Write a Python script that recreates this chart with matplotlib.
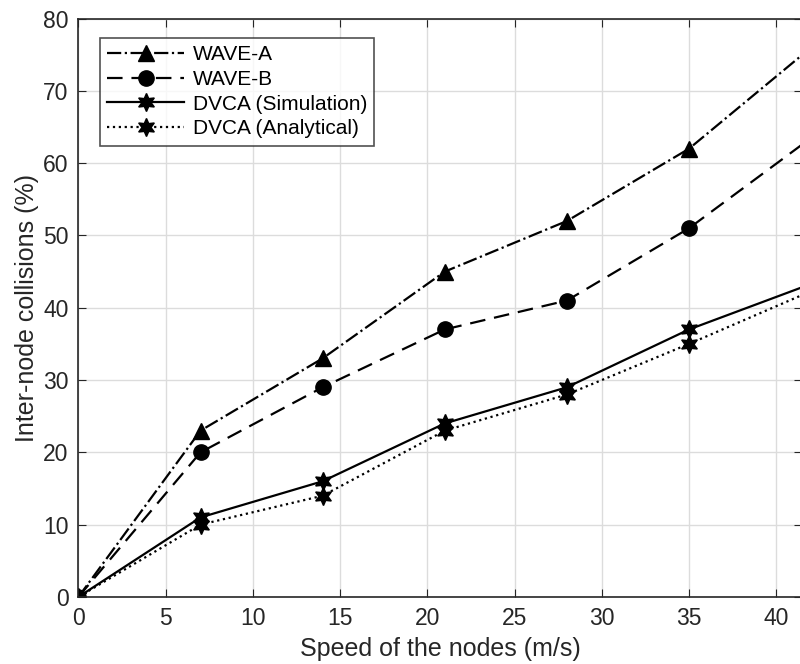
import matplotlib.pyplot as plt
import numpy as np

# data
speed = [0, 7, 14, 21, 28, 35, 42]
wave_a = [0, 23, 33, 45, 52, 62, 76]
wave_b = [0, 20, 29, 37, 41, 51, 63.5]
dvca_sim = [0, 11, 16, 24, 29, 37, 43.3]
dvca_ana = [0, 10, 14, 23, 28, 35, 42.3]

x_ticks = np.arange(0, 41, 5)
y_ticks = np.arange(0, 81, 10)

plt.rcParams['font.family'] = ['Liberation Sans', 'DejaVu Sans']

fig = plt.figure(figsize=(8, 6.64), dpi=100)
# axes runs just past the right edge of the figure, like the cropped reference
ax = fig.add_axes([0.098, 0.101, 0.905, 0.871])

hexagram = (6, 1, 0)
ax.plot(speed, wave_a, color='black', linestyle='-.', linewidth=1.6,
        marker='^', markersize=12, label='WAVE-A')
ax.plot(speed, wave_b, color='black', linestyle=(0, (7, 4)), linewidth=1.6,
        marker='o', markersize=11, label='WAVE-B')
ax.plot(speed, dvca_sim, color='black', linestyle='-', linewidth=1.6,
        marker=hexagram, markersize=13, label='DVCA (Simulation)')
ax.plot(speed, dvca_ana, color='black', linestyle=':', linewidth=1.6,
        marker=hexagram, markersize=13, label='DVCA (Analytical)')

ax.set_xlim(0, 41.5)
ax.set_ylim(0, 80)
ax.set_xticks(x_ticks)
ax.set_yticks(y_ticks)
ax.grid(True, color='#dcdcdc', linewidth=1)
ax.set_axisbelow(True)
ax.tick_params(direction='in', top=True, right=True, labelsize=16.5,
               color='#262626', labelcolor='#262626', length=6, pad=7)
for s in ax.spines.values():
    s.set_color('#262626')
    s.set_linewidth(1.2)

ax.set_xlabel('Speed of the nodes (m/s)', fontsize=18, color='#262626', labelpad=5)
ax.set_ylabel('Inter-node collisions (%)', fontsize=18, color='#262626', labelpad=3)

leg = ax.legend(loc='upper left', bbox_to_anchor=(0.03, 0.967), fontsize=15,
                frameon=True, fancybox=False, edgecolor='#262626',
                handlelength=3.7, borderpad=0.35, labelspacing=0.28, handletextpad=0.4,
                borderaxespad=0)
leg.get_frame().set_linewidth(1.2)

plt.savefig('out.png', dpi=100)
